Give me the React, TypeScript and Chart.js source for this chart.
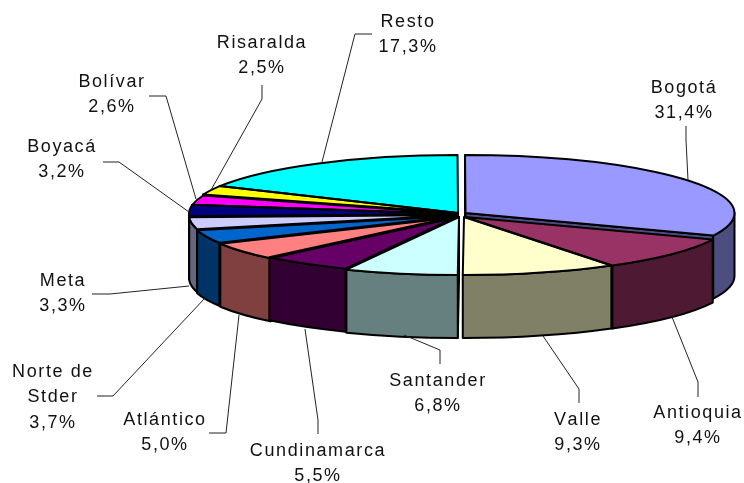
import React, { useEffect, useRef } from "react";
import { Chart, registerables } from "chart.js";

Chart.register(...registerables);

const categories = ["Bogotá", "Antioquia", "Valle", "Santander", "Cundinamarca", "Atlántico", "Norte de Stder", "Meta", "Boyacá", "Bolívar", "Risaralda", "Resto"];
const values = [31.4, 9.4, 9.3, 6.8, 5.5, 5.0, 3.7, 3.3, 3.2, 2.6, 2.5, 17.3];
const topColors = ["#9999FF", "#993366", "#FFFFCC", "#CCFFFF", "#660066", "#FF8080", "#0066CC", "#CCCCFF", "#000080", "#FF00FF", "#FFFF00", "#00FFFF"];
const wallColors = ["#4D4D80", "#4D1933", "#808066", "#668080", "#330033", "#804040", "#003366", "#666680", "#000040", "#800080", "#808000", "#008080"];
const labelLines = [["Bogotá"], ["Antioquia"], ["Valle"], ["Santander"], ["Cundinamarca"], ["Atlántico"], ["Norte de", "Stder"], ["Meta"], ["Boyacá"], ["Bolívar"], ["Risaralda"], ["Resto"]];

// Layout only: explosion of each slice in px, label centres, leader lines.
const sliceShift = [[7.5, -1], [7, 3], [6, 3], [1, 3], [0, 2], [1, 3], [0, 2], [0, 1], [0, 0], [0, 0], [0, -1], [0, -1]];
const labelCentre = [[684, 88], [698, 413], [578, 420], [438, 381], [318, 451], [165, 420], [53, 372], [63, 281], [62, 147], [112, 82], [262, 43], [408, 22]];
const leaders = [
  [[686, 126], [686, 140], [688, 180]],
  [[698, 397], [698, 382], [672, 317]],
  [[579, 403], [579, 389], [543, 336]],
  [[440, 364], [440, 350], [404, 335]],
  [[318, 434], [318, 420], [305, 329]],
  [[209, 433], [226, 433], [239, 315]],
  [[97, 396], [113, 396], [205, 298]],
  [[92, 294], [110, 294], [189, 286]],
  [[103, 162], [119, 162], [189, 212]],
  [[149, 96], [166, 96], [196, 199]],
  [[262, 85], [262, 99], [211, 190]],
  [[372, 34], [355, 34], [322, 162]],
];

const CX = 458, CY = 214, RX = 269, RY = 58, DEPTH = 63;

const pie3d = {
  id: "pie3d",
  geom(chart: any) {
    const arcs = chart.getDatasetMeta(0).data;
    const R = arcs[0].outerRadius;
    const sx = RX / R, sy = RY / R;
    return { arcs, R, sx, sy };
  },
  centre(chart: any) {
    return { x: (chart.chartArea.left + chart.chartArea.right) / 2, y: (chart.chartArea.top + chart.chartArea.bottom) / 2 };
  },
  afterDatasetsUpdate(chart: any) {
    const { arcs, sx, sy } = this.geom(chart);
    const c = this.centre(chart);
    arcs.forEach((arc: any, i: number) => {
      arc.x = c.x + sliceShift[i][0] / sx;
      arc.y = c.y + sliceShift[i][1] / sy;
    });
  },
  beforeDatasetsDraw(chart: any) {
    const ctx = chart.ctx;
    const { arcs } = this.geom(chart);
    ctx.save();
    ctx.lineWidth = 2;
    ctx.lineJoin = "round";
    ctx.strokeStyle = "#000";
    const order = arcs.map((_: any, i: number) => i).sort((p: number, q: number) => {
      const mid = (a: any) => Math.sin((a.startAngle + a.endAngle) / 2);
      return mid(arcs[p]) - mid(arcs[q]);
    });
    for (const i of order) {
      const a = arcs[i];
      const ox = CX + sliceShift[i][0], oy = CY + sliceShift[i][1];
      ctx.fillStyle = wallColors[i];
      for (const ang of [a.startAngle, a.endAngle]) {
        const isStart = ang === a.startAngle;
        const visible = isStart ? -Math.cos(ang) > 0 : Math.cos(ang) > 0;
        if (!visible) continue;
        const px = ox + RX * Math.cos(ang), py = oy + RY * Math.sin(ang);
        ctx.beginPath();
        ctx.moveTo(ox, oy);
        ctx.lineTo(px, py);
        ctx.lineTo(px, py + DEPTH);
        ctx.lineTo(ox, oy + DEPTH);
        ctx.closePath();
        ctx.fill();
        ctx.stroke();
      }
      const from = Math.max(a.startAngle, 0), to = Math.min(a.endAngle, Math.PI);
      if (to > from) {
        ctx.beginPath();
        ctx.ellipse(ox, oy, RX, RY, 0, from, to);
        ctx.ellipse(ox, oy + DEPTH, RX, RY, 0, to, from, true);
        ctx.closePath();
        ctx.fill();
        ctx.stroke();
      }
    }
    ctx.restore();
  },
  beforeDatasetDraw(chart: any) {
    const ctx = chart.ctx;
    const { sx, sy } = this.geom(chart);
    const c = this.centre(chart);
    ctx.save();
    ctx.translate(CX, CY);
    ctx.scale(sx, sy);
    ctx.translate(-c.x, -c.y);
  },
  afterDatasetDraw(chart: any) {
    chart.ctx.restore();
  },
  afterDatasetsDraw(chart: any) {
    const ctx = chart.ctx;
    const { arcs } = this.geom(chart);
    ctx.save();
    ctx.lineWidth = 2;
    ctx.lineJoin = "round";
    ctx.strokeStyle = "#000";
    arcs.forEach((a: any, i: number) => {
      const ox = CX + sliceShift[i][0], oy = CY + sliceShift[i][1];
      ctx.beginPath();
      ctx.moveTo(ox, oy);
      ctx.ellipse(ox, oy, RX, RY, 0, a.startAngle, a.endAngle);
      ctx.closePath();
      ctx.stroke();
    });
    ctx.lineWidth = 1;
    ctx.strokeStyle = "#222";
    leaders.forEach((pts) => {
      ctx.beginPath();
      pts.forEach((p, k) => (k ? ctx.lineTo(p[0], p[1]) : ctx.moveTo(p[0], p[1])));
      ctx.stroke();
    });
    ctx.fillStyle = "#111";
    ctx.font = '18px "Liberation Sans"';
    (ctx as any).letterSpacing = "1.6px";
    (ctx as any).fontKerning = "none";
    ctx.textAlign = "center";
    ctx.textBaseline = "middle";
    categories.forEach((_, i) => {
      const lines = [...labelLines[i], values[i].toFixed(1).replace(".", ",") + "%"];
      lines.forEach((t, k) => ctx.fillText(t, labelCentre[i][0], labelCentre[i][1] + k * 25.3));
    });
    ctx.restore();
  },
};

export default function App() {
  const ref = useRef<HTMLCanvasElement>(null);
  useEffect(() => {
    document.body.style.margin = "0";
    document.body.style.background = "#fff";
    const chart = new Chart(ref.current as HTMLCanvasElement, {
      type: "pie",
      data: { labels: categories, datasets: [{ data: values, backgroundColor: topColors, borderWidth: 0 }] },
      options: {
        responsive: false,
        animation: false,
        devicePixelRatio: 1,
        rotation: -0.1,
        plugins: { legend: { display: false }, tooltip: { enabled: false } },
      },
      plugins: [pie3d as any],
    });
    return () => chart.destroy();
  }, []);
  return <canvas ref={ref} width={744} height={483} style={{ display: "block" }} />;
}
